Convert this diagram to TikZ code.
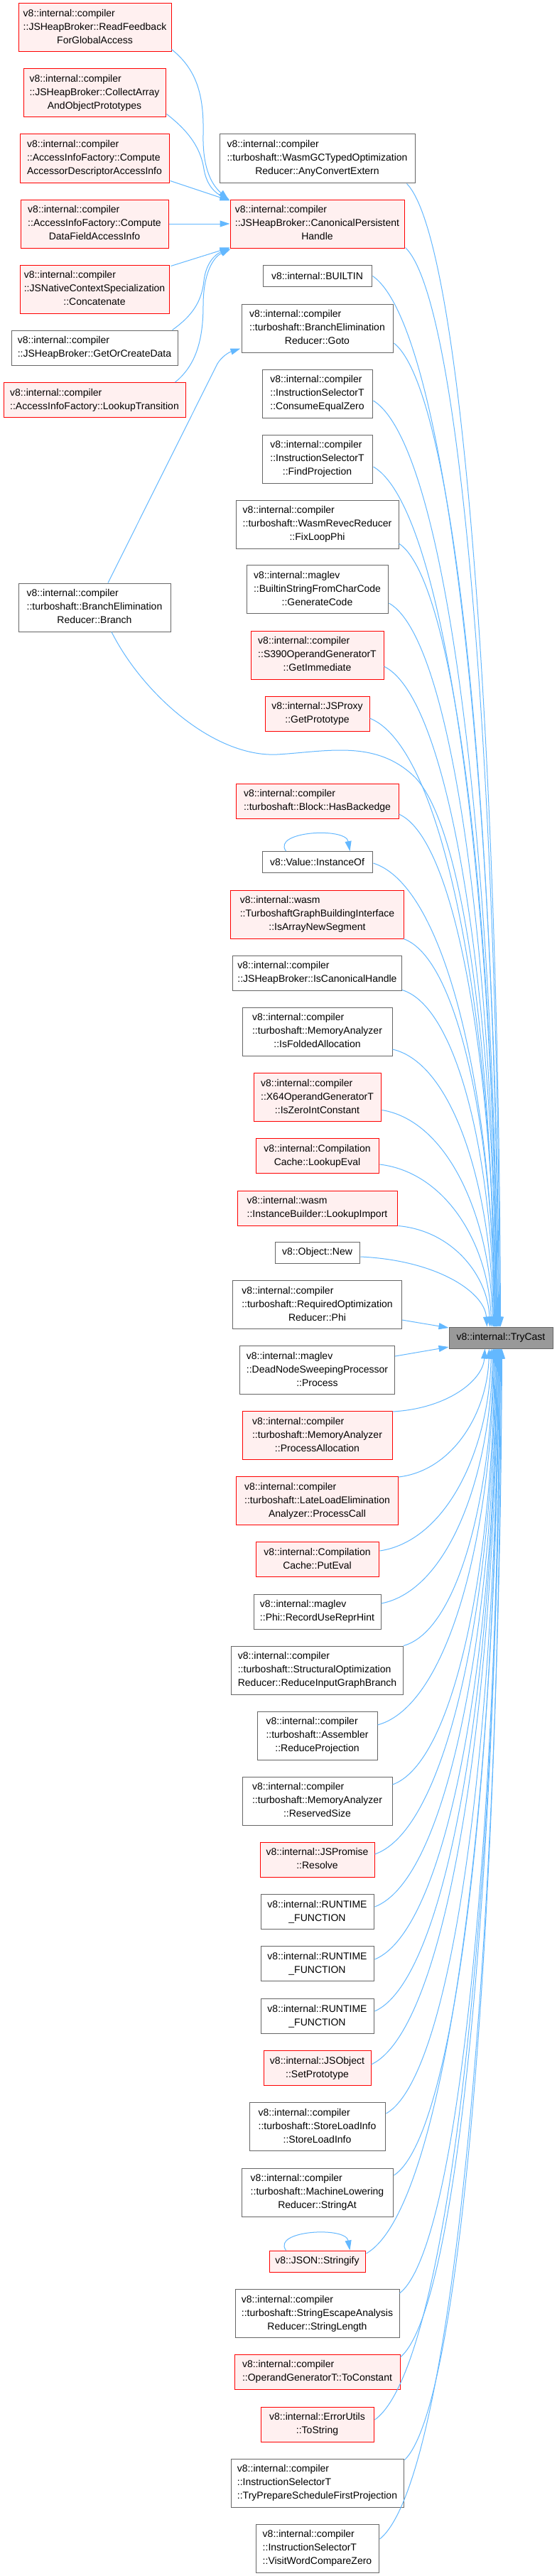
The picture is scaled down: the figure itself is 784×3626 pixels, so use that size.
\documentclass[tikz,border=0pt]{standalone}
\usepackage{fontspec}
\setmainfont{Liberation Sans}
\usetikzlibrary{arrows.meta,calc}
\definecolor{edgeblue}{HTML}{63B8FF}
\definecolor{nodegray}{HTML}{666666}
\definecolor{redfill}{HTML}{FFF0F0}
\definecolor{rootfill}{HTML}{999999}
\newcommand{\lthree}[3]{\begin{tabular}{@{}l@{}}#1\\#2\\\multicolumn{1}{@{}c@{}}{#3}\end{tabular}}
\newcommand{\ltwo}[2]{\begin{tabular}{@{}l@{}}#1\\\multicolumn{1}{@{}c@{}}{#2}\end{tabular}}
\newcommand{\tcedge}[2]{\draw[cedge] let \p1=(#1), \p2=(#2) in (\p1) .. controls ({\x1+0.6*(\x2-\x1)},{\y1+0.05*(\y2-\y1)}) and ({\x2-0.02*(\x2-\x1)},{\y1+0.5*(\y2-\y1)}) .. (\p2);}
\tikzset{
  wbox/.style={draw=nodegray, fill=white, line width=1pt, inner sep=0pt},
  rbox/.style={draw=red, fill=redfill, line width=1pt, inner sep=0pt},
  rootbox/.style={draw=nodegray, fill=rootfill, line width=1pt, inner sep=0pt},
  cedge/.style={draw=edgeblue, line width=1pt, -{Triangle[length=14pt,width=9pt,fill=edgeblue]}},
}
\begin{document}
\begin{tikzpicture}[x=1pt, y=-1pt, font=\fontsize{14}{19}\selectfont]
\fill[white] (0,0) rectangle (784,3626);
\useasboundingbox (0,0) rectangle (784,3626);

% left column
\node[rbox, minimum width=215pt, minimum height=68pt] (rf) at (133.5,39) {\lthree{v8::internal::compiler}{::JSHeapBroker::ReadFeedback}{ForGlobalAccess}};
\node[rbox, minimum width=200pt, minimum height=68pt] (ca) at (133,131) {\lthree{v8::internal::compiler}{::JSHeapBroker::CollectArray}{AndObjectPrototypes}};
\node[rbox, minimum width=210pt, minimum height=68pt] (cad) at (133,223) {\lthree{v8::internal::compiler}{::AccessInfoFactory::Compute}{AccessorDescriptorAccessInfo}};
\node[rbox, minimum width=208pt, minimum height=68pt] (cdf) at (133,315) {\lthree{v8::internal::compiler}{::AccessInfoFactory::Compute}{DataFieldAccessInfo}};
\node[rbox, minimum width=210pt, minimum height=68pt] (cc) at (133,407) {\lthree{v8::internal::compiler}{::JSNativeContextSpecialization}{::Concatenate}};
\node[wbox, minimum width=234pt, minimum height=49pt] (gocd) at (133,489.5) {\ltwo{v8::internal::compiler}{::JSHeapBroker::GetOrCreateData}};
\node[rbox, minimum width=256pt, minimum height=49pt] (lt) at (133,563) {\ltwo{v8::internal::compiler}{::AccessInfoFactory::LookupTransition}};
\node[wbox, minimum width=214pt, minimum height=68pt] (br) at (133,855) {\lthree{v8::internal::compiler}{::turboshaft::BranchElimination}{Reducer::Branch}};

% middle column
\node[wbox, minimum width=275pt, minimum height=68pt] (ace) at (446.5,223) {\lthree{v8::internal::compiler}{::turboshaft::WasmGCTypedOptimization}{Reducer::AnyConvertExtern}};
\node[rbox, minimum width=245pt, minimum height=68pt] (cph) at (446.5,315) {\lthree{v8::internal::compiler}{::JSHeapBroker::CanonicalPersistent}{Handle}};
\node[wbox, minimum width=153pt, minimum height=30pt] (bi) at (446.5,388.5) {v8::internal::BUILTIN};
\node[wbox, minimum width=213pt, minimum height=68pt] (gt) at (446.5,462) {\lthree{v8::internal::compiler}{::turboshaft::BranchElimination}{Reducer::Goto}};
\node[wbox, minimum width=155pt, minimum height=68pt] (cez) at (446.5,554) {\lthree{v8::internal::compiler}{::InstructionSelectorT}{::ConsumeEqualZero}};
\node[wbox, minimum width=155pt, minimum height=68pt] (fp) at (446.5,646) {\lthree{v8::internal::compiler}{::InstructionSelectorT}{::FindProjection}};
\node[wbox, minimum width=229pt, minimum height=68pt] (flp) at (446.5,738) {\lthree{v8::internal::compiler}{::turboshaft::WasmRevecReducer}{::FixLoopPhi}};
\node[wbox, minimum width=199pt, minimum height=68pt] (gc) at (446.5,829.5) {\lthree{v8::internal::maglev}{::BuiltinStringFromCharCode}{::GenerateCode}};
\node[rbox, minimum width=187pt, minimum height=68pt] (gi) at (446.5,922) {\lthree{v8::internal::compiler}{::S390OperandGeneratorT}{::GetImmediate}};
\node[rbox, minimum width=147pt, minimum height=49pt] (gp) at (446.5,1004.5) {\ltwo{v8::internal::JSProxy}{::GetPrototype}};
\node[rbox, minimum width=229pt, minimum height=49pt] (hb) at (446.5,1127.5) {\ltwo{v8::internal::compiler}{::turboshaft::Block::HasBackedge}};
\node[wbox, minimum width=155pt, minimum height=30pt] (io) at (446.5,1213.5) {v8::Value::InstanceOf};
\node[rbox, minimum width=244pt, minimum height=68pt] (ians) at (446.5,1287) {\lthree{v8::internal::wasm}{::TurboshaftGraphBuildingInterface}{::IsArrayNewSegment}};
\node[wbox, minimum width=238pt, minimum height=49pt] (ich) at (446.5,1369.5) {\ltwo{v8::internal::compiler}{::JSHeapBroker::IsCanonicalHandle}};
\node[wbox, minimum width=211pt, minimum height=68pt] (ifa) at (446.5,1452) {\lthree{v8::internal::compiler}{::turboshaft::MemoryAnalyzer}{::IsFoldedAllocation}};
\node[rbox, minimum width=179pt, minimum height=68pt] (izic) at (446.5,1544.5) {\lthree{v8::internal::compiler}{::X64OperandGeneratorT}{::IsZeroIntConstant}};
\node[rbox, minimum width=173pt, minimum height=49pt] (le) at (446.5,1627) {\ltwo{v8::internal::Compilation}{Cache::LookupEval}};
\node[rbox, minimum width=225pt, minimum height=49pt] (li) at (446.5,1700.5) {\ltwo{v8::internal::wasm}{::InstanceBuilder::LookupImport}};
\node[wbox, minimum width=119pt, minimum height=30pt] (on) at (446.5,1763) {v8::Object::New};
\node[wbox, minimum width=238pt, minimum height=68pt] (phi) at (446.5,1836.5) {\lthree{v8::internal::compiler}{::turboshaft::RequiredOptimization}{Reducer::Phi}};
\node[wbox, minimum width=218pt, minimum height=68pt] (dn) at (446.5,1928.5) {\lthree{v8::internal::maglev}{::DeadNodeSweepingProcessor}{::Process}};
\node[rbox, minimum width=211pt, minimum height=68pt] (pa) at (446.5,2020.5) {\lthree{v8::internal::compiler}{::turboshaft::MemoryAnalyzer}{::ProcessAllocation}};
\node[rbox, minimum width=228pt, minimum height=68pt] (pc) at (446.5,2112.5) {\lthree{v8::internal::compiler}{::turboshaft::LateLoadElimination}{Analyzer::ProcessCall}};
\node[rbox, minimum width=173pt, minimum height=49pt] (pe) at (446.5,2195) {\ltwo{v8::internal::Compilation}{Cache::PutEval}};
\node[wbox, minimum width=179pt, minimum height=49pt] (ruh) at (446.5,2268.5) {\ltwo{v8::internal::maglev}{::Phi::RecordUseReprHint}};
\node[wbox, minimum width=242pt, minimum height=68pt] (rigb) at (446.5,2351) {\lthree{v8::internal::compiler}{::turboshaft::StructuralOptimization}{Reducer::ReduceInputGraphBranch}};
\node[wbox, minimum width=169pt, minimum height=68pt] (rp) at (446.5,2443) {\lthree{v8::internal::compiler}{::turboshaft::Assembler}{::ReduceProjection}};
\node[wbox, minimum width=211pt, minimum height=68pt] (rs) at (446.5,2535) {\lthree{v8::internal::compiler}{::turboshaft::MemoryAnalyzer}{::ReservedSize}};
\node[rbox, minimum width=161pt, minimum height=49pt] (res) at (446.5,2617.5) {\ltwo{v8::internal::JSPromise}{::Resolve}};
\node[wbox, minimum width=159pt, minimum height=49pt] (rt1) at (446.5,2691) {\ltwo{v8::internal::RUNTIME}{\_FUNCTION}};
\node[wbox, minimum width=159pt, minimum height=49pt] (rt2) at (446.5,2764) {\ltwo{v8::internal::RUNTIME}{\_FUNCTION}};
\node[wbox, minimum width=159pt, minimum height=49pt] (rt3) at (446.5,2838) {\ltwo{v8::internal::RUNTIME}{\_FUNCTION}};
\node[rbox, minimum width=151pt, minimum height=49pt] (sp) at (446.5,2911) {\ltwo{v8::internal::JSObject}{::SetPrototype}};
\node[wbox, minimum width=191pt, minimum height=68pt] (sli) at (446.5,2993.5) {\lthree{v8::internal::compiler}{::turboshaft::StoreLoadInfo}{::StoreLoadInfo}};
\node[wbox, minimum width=213pt, minimum height=68pt] (sa) at (446.5,3086) {\lthree{v8::internal::compiler}{::turboshaft::MachineLowering}{Reducer::StringAt}};
\node[rbox, minimum width=135pt, minimum height=30pt] (sfy) at (446.5,3183) {v8::JSON::Stringify};
\node[wbox, minimum width=231pt, minimum height=68pt] (sl) at (446.5,3256.5) {\lthree{v8::internal::compiler}{::turboshaft::StringEscapeAnalysis}{Reducer::StringLength}};
\node[rbox, minimum width=233pt, minimum height=49pt] (tcn) at (446.5,3338.5) {\ltwo{v8::internal::compiler}{::OperandGeneratorT::ToConstant}};
\node[rbox, minimum width=159pt, minimum height=49pt] (ts) at (446.5,3412.5) {\ltwo{v8::internal::ErrorUtils}{::ToString}};
\node[wbox, minimum width=243pt, minimum height=68pt] (tp) at (446.5,3495) {\lthree{v8::internal::compiler}{::InstructionSelectorT}{::TryPrepareScheduleFirstProjection}};
\node[wbox, minimum width=173pt, minimum height=68pt] (vwcz) at (446.5,3587) {\lthree{v8::internal::compiler}{::InstructionSelectorT}{::VisitWordCompareZero}};

% root
\node[rootbox, minimum width=146pt, minimum height=30pt] (tc) at (705,1883) {v8::internal::TryCast};

% edges into CanonicalPersistentHandle
\draw[cedge] ($(rf.south east)+(0,-4)$) .. controls (280,100) and (287,140) .. (286,190) .. controls (285,240) and (300,262) .. ($(cph.north west)+(-2,0)$);
\draw[cedge] ($(ca.south east)+(1,-5)$) .. controls (262,182) and (282,205) .. (287,238) .. controls (291,262) and (304,272) .. ($(cph.north west)+(0,1)$);
\draw[cedge] ($(cad.south east)+(1,-3)$) -- ($(cph.north west)+(0,2)$);
\draw[cedge] (cdf.east) -- (cph.west);
\draw[cedge] ($(cc.north east)+(2,2)$) -- ($(cph.south west)+(0,-1)$);
\draw[cedge] ($(gocd.north east)+(-8,0)$) .. controls (270,445) and (284,425) .. (287,395) .. controls (290,370) and (303,358) .. (cph.south west);
\draw[cedge] ($(lt.north east)+(-15,0)$) .. controls (275,515) and (286,480) .. (286,430) .. controls (286,385) and (300,362) .. ($(cph.south west)+(1,1)$);

% Branch -> Goto
\draw[cedge] ($(br.north)+(19,0)$) -- (306,512) .. controls (312,502) and (322,496) .. ($(gt.south west)+(-1,-6)$);

% Branch -> TryCast
\draw[cedge] ($(br.south)+(24,0)$) .. controls (200,975) and (300,1066) .. (390,1062) .. controls (460,1058) and (530,1040) .. (585,1095) .. controls (655,1170) and (694,1500) .. ($(tc.north west)+(64,0)$);

% self loops
\draw[cedge] ($(io.north)+(-44,0)$) .. controls ($(io.north)+(-64,-28)$) and ($(io.north)+(40,-34)$) .. ($(io.north)+(46,0)$);
\draw[cedge] ($(sfy.north)+(-44,0)$) .. controls ($(sfy.north)+(-64,-28)$) and ($(sfy.north)+(40,-34)$) .. ($(sfy.north)+(46,0)$);

% edges into TryCast from above
\tcedge{$(ace.south east)+(-12,1)$}{$(tc.north west)+(73,0)$}
\tcedge{$(cph.south east)+(1,-1)$}{$(tc.north west)+(72,0)$}
\tcedge{$(bi.east)+(1,0)$}{$(tc.north west)+(71,0)$}
\tcedge{$(gt.east)+(1,21)$}{$(tc.north west)+(70,0)$}
\tcedge{$(cez.east)+(1,10)$}{$(tc.north west)+(69,0)$}
\tcedge{$(fp.east)+(1,11)$}{$(tc.north west)+(68,0)$}
\tcedge{$(flp.east)+(0,27)$}{$(tc.north west)+(68,0)$}
\tcedge{$(gc.east)+(1,19.5)$}{$(tc.north west)+(67,0)$}
\tcedge{$(gi.east)+(0,16)$}{$(tc.north west)+(67,0)$}
\tcedge{$(gp.east)+(0,6.5)$}{$(tc.north west)+(66,0)$}
\tcedge{$(hb.east)+(0,18.5)$}{$(tc.north west)+(66,0)$}
\tcedge{$(io.east)+(1,1.5)$}{$(tc.north west)+(65,0)$}
\tcedge{$(ians.south east)+(-1,0)$}{$(tc.north west)+(65,0)$}
\tcedge{$(ich.south east)+(0,-1)$}{$(tc.north west)+(64,0)$}
\tcedge{$(ifa.east)+(0,25)$}{$(tc.north west)+(63,0)$}
\tcedge{$(izic.east)+(1,18)$}{$(tc.north west)+(62,0)$}
\tcedge{$(le.east)+(1,12)$}{$(tc.north west)+(60,0)$}
\tcedge{$(li.south east)+(1,0)$}{$(tc.north west)+(58,0)$}
\tcedge{$(on.east)+(1,6)$}{$(tc.north west)+(54,0)$}
\draw[cedge] ($(phi.east)+(0,21.5)$) -- ($(tc.west)+(0,-14)$);
\draw[cedge] ($(dn.east)+(0,-19.5)$) -- ($(tc.west)+(0,13)$);

% edges into TryCast from below
\tcedge{$(pa.north east)+(0,1)$}{$(tc.south west)+(51,0)$}
\tcedge{$(pc.north east)+(0,1)$}{$(tc.south west)+(57,0)$}
\tcedge{$(pe.east)+(1,-12)$}{$(tc.south west)+(60,0)$}
\tcedge{$(ruh.east)+(0,-11.5)$}{$(tc.south west)+(62,0)$}
\tcedge{$(rigb.north east)+(0,0)$}{$(tc.south west)+(63,0)$}
\tcedge{$(rp.east)+(0,-15)$}{$(tc.south west)+(64,0)$}
\tcedge{$(rs.east)+(0,-23)$}{$(tc.south west)+(65,0)$}
\tcedge{$(res.east)+(0,-7.5)$}{$(tc.south west)+(66,0)$}
\tcedge{$(rt1.east)+(1,-7)$}{$(tc.south west)+(67,0)$}
\tcedge{$(rt2.east)+(1,-6)$}{$(tc.south west)+(68,0)$}
\tcedge{$(rt3.east)+(1,-7)$}{$(tc.south west)+(68,0)$}
\tcedge{$(sp.east)+(0,-5)$}{$(tc.south west)+(69,0)$}
\tcedge{$(sli.east)+(1,-18.5)$}{$(tc.south west)+(70,0)$}
\tcedge{$(sa.east)+(1,-24)$}{$(tc.south west)+(70,0)$}
\tcedge{$(sfy.east)+(1,-11)$}{$(tc.south west)+(71,0)$}
\tcedge{$(sl.east)+(0,-28.5)$}{$(tc.south west)+(72,0)$}
\tcedge{$(tcn.east)+(0,-20.5)$}{$(tc.south west)+(72,0)$}
\tcedge{$(ts.east)+(1,-6.5)$}{$(tc.south west)+(73,0)$}
\tcedge{$(tp.north east)+(1,2)$}{$(tc.south west)+(74,0)$}
\tcedge{$(vwcz.east)+(1,-13)$}{$(tc.south west)+(75,0)$}
\end{tikzpicture}
\end{document}
